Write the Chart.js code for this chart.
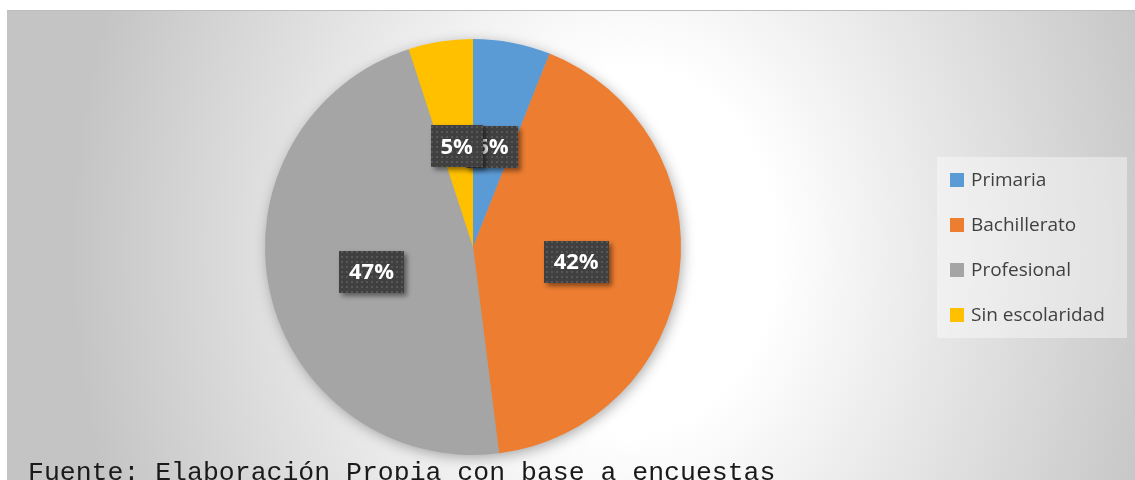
<!DOCTYPE html>
<html>
<head>
<meta charset="utf-8">
<script src="https://cdn.jsdelivr.net/npm/chart.js@4"></script>
<style>
    body { margin: 0; background: #ffffff; }
    #wrap { width: 1135px; height: 480px; }
</style>
</head>
<body>
<div id="wrap"><canvas id="pieChart" width="1135" height="480"></canvas></div>
<script>
const categories = ['Primaria', 'Bachillerato', 'Profesional', 'Sin escolaridad'];
const values = [6, 42, 47, 5];
const colors = ['#5B9BD5', '#ED7D31', '#A5A5A5', '#FFC000'];
const sourceNote = 'Fuente: Elaboración Propia con base a encuestas';

// dotted fill used by the data label boxes
function makeDotPattern(ctx) {
    const c = document.createElement('canvas');
    c.width = 5;
    c.height = 5;
    const p = c.getContext('2d');
    p.fillStyle = '#404040';
    p.fillRect(0, 0, 5, 5);
    p.fillStyle = '#575757';
    p.fillRect(1, 1, 2, 2);
    return ctx.createPattern(c, 'repeat');
}

const backgroundPlugin = {
    id: 'background',
    beforeDraw(chart) {
        const ctx = chart.ctx;
        ctx.save();
        ctx.fillStyle = '#ffffff';
        ctx.fillRect(0, 0, chart.width, chart.height);
        // elliptical white-to-grey fill of the chart area
        ctx.save();
        ctx.beginPath();
        ctx.rect(7, 10, chart.width - 7, chart.height - 10);
        ctx.clip();
        ctx.translate(630, 250);
        ctx.scale(1, 1.25);
        const g = ctx.createRadialGradient(0, 0, 0, 0, 0, 560);
        g.addColorStop(0, '#ffffff');
        g.addColorStop(0.26, '#ffffff');
        g.addColorStop(1, '#c4c4c4');
        ctx.fillStyle = g;
        ctx.fillRect(-700, -300, 1600, 600);
        ctx.restore();
        ctx.strokeStyle = '#bdbdbd';
        ctx.lineWidth = 1;
        ctx.beginPath();
        ctx.moveTo(7, 10.5);
        ctx.lineTo(chart.width, 10.5);
        ctx.stroke();
        ctx.restore();
    },
    beforeDatasetsDraw(chart) {
        // soft shadow under the whole pie
        const arc = chart.getDatasetMeta(0).data[0];
        if (!arc) return;
        const ctx = chart.ctx;
        ctx.save();
        ctx.shadowColor = 'rgba(0, 0, 0, 0.35)';
        ctx.shadowBlur = 14;
        ctx.shadowOffsetX = 2;
        ctx.shadowOffsetY = 3;
        ctx.fillStyle = '#a5a5a5';
        ctx.beginPath();
        ctx.arc(arc.x, arc.y, arc.outerRadius - 1, 0, Math.PI * 2);
        ctx.fill();
        ctx.restore();
    }
};

const labelPlugin = {
    id: 'boxLabels',
    afterDatasetsDraw(chart) {
        const ctx = chart.ctx;
        const meta = chart.getDatasetMeta(0);
        const total = values.reduce((a, b) => a + b, 0);
        const pattern = makeDotPattern(ctx);
        ctx.save();
        ctx.font = 'bold 22px "Open Sans"';
        ctx.textAlign = 'center';
        ctx.textBaseline = 'middle';
        meta.data.forEach((arc, i) => {
            const mid = (arc.startAngle + arc.endAngle) / 2;
            const r = arc.outerRadius * 0.5;
            const x = arc.x + Math.cos(mid) * r;
            const y = arc.y + Math.sin(mid) * r + 2;
            const text = Math.round(values[i] / total * 100) + '%';
            const w = ctx.measureText(text).width + 20;
            const h = 42;
            ctx.save();
            ctx.shadowColor = 'rgba(0, 0, 0, 0.45)';
            ctx.shadowBlur = 5;
            ctx.shadowOffsetX = 3;
            ctx.shadowOffsetY = 3;
            ctx.fillStyle = pattern;
            ctx.fillRect(Math.round(x - w / 2), Math.round(y - h / 2), Math.round(w), h);
            ctx.restore();
            ctx.fillStyle = '#ffffff';
            ctx.fillText(text, x, y + 1);
        });
        ctx.restore();
    },
    afterDraw(chart) {
        const ctx = chart.ctx;
        ctx.save();
        // legend
        ctx.fillStyle = 'rgba(255, 255, 255, 0.4)';
        ctx.fillRect(937, 157, 190, 181);
        ctx.font = '19px "Open Sans"';
        ctx.textBaseline = 'middle';
        ctx.textAlign = 'left';
        categories.forEach((name, i) => {
            const y = 180 + i * 45;
            ctx.fillStyle = colors[i];
            ctx.fillRect(950, y - 7, 14, 14);
            ctx.fillStyle = '#404040';
            ctx.fillText(name, 971, y + 1);
        });
        // source note
        ctx.font = '26.5px "Liberation Mono"';
        ctx.fillStyle = '#1a1a1a';
        ctx.textBaseline = 'alphabetic';
        ctx.fillText(sourceNote, 28, 480);
        ctx.restore();
    }
};

const ctx = document.getElementById('pieChart').getContext('2d');
new Chart(ctx, {
    type: 'pie',
    data: {
        labels: categories,
        datasets: [{
            data: values,
            backgroundColor: colors,
            borderWidth: 0
        }]
    },
    options: {
        responsive: false,
        animation: false,
        layout: {
            padding: { top: 39, bottom: 25, left: 265, right: 454 }
        },
        plugins: {
            legend: { display: false },
            tooltip: { enabled: false }
        }
    },
    plugins: [backgroundPlugin, labelPlugin]
});
</script>
</body>
</html>
